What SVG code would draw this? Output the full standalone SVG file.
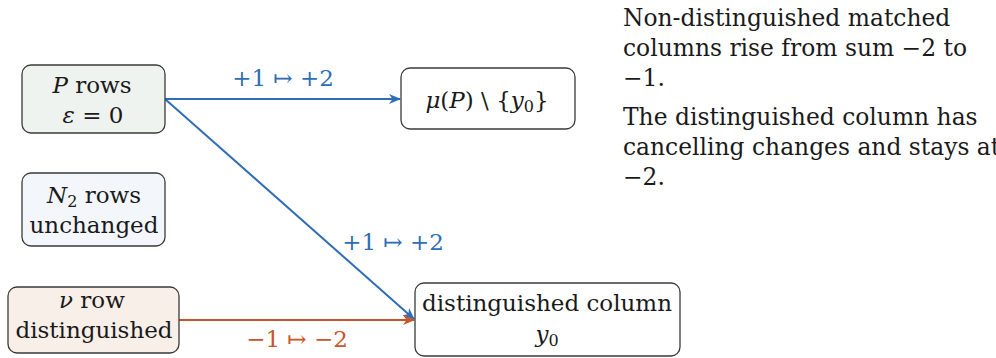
<svg xmlns="http://www.w3.org/2000/svg" width="996" height="358" viewBox="0 0 996 358">
<defs>
<marker id="ab" viewBox="0 0 12 10" refX="11" refY="5" markerWidth="12" markerHeight="10" markerUnits="userSpaceOnUse" orient="auto"><path d="M0,0 L12,5 L0,10 L3.5,5 z" fill="#2f6db5"/></marker>
<marker id="ao" viewBox="0 0 12 10" refX="11" refY="5" markerWidth="12" markerHeight="10" markerUnits="userSpaceOnUse" orient="auto"><path d="M0,0 L12,5 L0,10 L3.5,5 z" fill="#c8562a"/></marker>
</defs>
<rect width="996" height="358" fill="#fff"/>
<g id="connectors">
<path d="M165,99 L400,99" stroke="#2f6db5" stroke-width="2" fill="none" marker-end="url(#ab)"/>
<path d="M165,99 L414,319" stroke="#2f6db5" stroke-width="2" fill="none" marker-end="url(#ab)"/>
<path d="M179,320 L414,320" stroke="#c8562a" stroke-width="2" fill="none" marker-end="url(#ao)"/>
<text x="283" y="86" font-family="DejaVu Serif" font-size="23" text-anchor="middle" fill="#2f6db5">+1 ↦ +2</text>
<text x="393" y="250" font-family="DejaVu Serif" font-size="23" text-anchor="middle" fill="#2f6db5">+1 ↦ +2</text>
<text x="297" y="347" font-family="DejaVu Serif" font-size="23" text-anchor="middle" fill="#c8562a">−1 ↦ −2</text>
</g>
<g id="p">
<rect x="22" y="65" width="143" height="68" rx="9" fill="#eef3f0" stroke="#3a3a3a" stroke-width="1.3"/>
<text x="92" y="93" font-family="DejaVu Serif" font-size="23" text-anchor="middle" fill="#1a1a1a"><tspan font-style="italic">P</tspan> rows</text>
<text x="93" y="123" font-family="DejaVu Serif" font-size="23" text-anchor="middle" fill="#1a1a1a"><tspan font-style="italic">ε</tspan> = 0</text>
</g>
<g id="n2">
<rect x="22" y="173" width="143" height="73" rx="9" fill="#f3f7fb" stroke="#3a3a3a" stroke-width="1.3"/>
<text x="94" y="203" font-family="DejaVu Serif" font-size="23" text-anchor="middle" fill="#1a1a1a"><tspan font-style="italic">N</tspan><tspan font-size="16" dy="4">2</tspan><tspan dy="-4"> rows</tspan></text>
<text x="94" y="233" font-family="DejaVu Serif" font-size="23" text-anchor="middle" fill="#1a1a1a">unchanged</text>
</g>
<g id="nu">
<rect x="8" y="287" width="171" height="66" rx="9" fill="#f8efe9" stroke="#3a3a3a" stroke-width="1.3"/>
<text x="92" y="308" font-family="DejaVu Serif" font-size="23" text-anchor="middle" fill="#1a1a1a"><tspan font-style="italic">ν</tspan> row</text>
<text x="94" y="338" font-family="DejaVu Serif" font-size="23" text-anchor="middle" fill="#1a1a1a">distinguished</text>
</g>
<g id="mu">
<rect x="401" y="68" width="174" height="61" rx="9" fill="#fff" stroke="#3a3a3a" stroke-width="1.3"/>
<text x="487" y="108" font-family="DejaVu Serif" font-size="23" text-anchor="middle" fill="#1a1a1a"><tspan font-style="italic">μ</tspan>(<tspan font-style="italic">P</tspan>) \ {<tspan font-style="italic">y</tspan><tspan font-size="16" dy="4">0</tspan><tspan dy="-4">}</tspan></text>
</g>
<g id="dc">
<rect x="415" y="283" width="265" height="73" rx="9" fill="#fff" stroke="#3a3a3a" stroke-width="1.3"/>
<text x="547" y="311" font-family="DejaVu Serif" font-size="23" text-anchor="middle" fill="#1a1a1a">distinguished column</text>
<text x="547" y="342" font-family="DejaVu Serif" font-size="23" text-anchor="middle" fill="#1a1a1a"><tspan font-style="italic">y</tspan><tspan font-size="16" dy="4">0</tspan></text>
</g>
<g id="note">
<text x="623" y="26" font-family="DejaVu Serif" font-size="23.4" fill="#1a1a1a">Non-distinguished matched</text>
<text x="623" y="56" font-family="DejaVu Serif" font-size="23.4" fill="#1a1a1a">columns rise from sum −2 to</text>
<text x="623" y="86" font-family="DejaVu Serif" font-size="23.4" fill="#1a1a1a">−1.</text>
<text x="623" y="125" font-family="DejaVu Serif" font-size="23.4" fill="#1a1a1a">The distinguished column has</text>
<text x="623" y="155" font-family="DejaVu Serif" font-size="23.4" fill="#1a1a1a">cancelling changes and stays at</text>
<text x="623" y="185" font-family="DejaVu Serif" font-size="23.4" fill="#1a1a1a">−2.</text>
</g>
</svg>
